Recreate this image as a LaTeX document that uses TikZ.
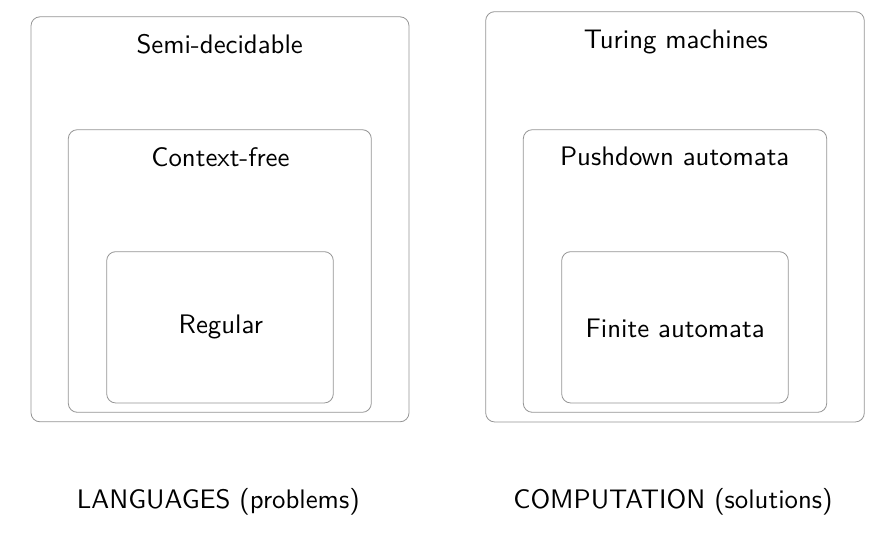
\documentclass[tikz,border=0pt]{standalone}
\usepackage{fontspec}
\newfontfamily\lmsten{lmsans10-regular.otf}
\begin{document}
\begin{tikzpicture}[x=1pt,y=-1pt,
  box/.style={draw=black!42, line width=0.8pt, rounded corners=9pt, rectangle, inner sep=0pt},
  lbl/.style={font=\lmsten\fontsize{26.8}{31}\selectfont, text=black, inner sep=0pt, anchor=base}]
\useasboundingbox (0,0) rectangle (881,536);
% left column
\node[box, minimum width=378pt, minimum height=405pt] (semi) at (220,219.3) {};
\node[box, minimum width=303pt, minimum height=282.6pt] (cf) at (219.8,271) {};
\node[box, minimum width=226.6pt, minimum height=151.3pt] (reg) at (220,327.3) {};
\node[lbl] (tsemi) at (219.7,53.3) {Semi-decidable};
\node[lbl] (tcf) at (220.5,166) {Context-free};
\node[lbl] (treg) at (220.8,333.3) {Regular};
% right column
\node[box, minimum width=378.6pt, minimum height=410.3pt] (tm) at (675,216.8) {};
\node[box, minimum width=303.4pt, minimum height=282.6pt] (pda) at (675,271) {};
\node[box, minimum width=226.6pt, minimum height=151.3pt] (fa) at (675,327.3) {};
\node[lbl] (ttm) at (675.8,48.3) {Turing machines};
\node[lbl] (tpda) at (674.7,165.7) {Pushdown automata};
\node[lbl] (tfa) at (675.2,337.3) {Finite automata};
% captions
\node[lbl] (lang) at (218.3,508.3) {LANGUAGES (problems)};
\node[lbl] (comp) at (673,508) {COMPUTATION (solutions)};
\end{tikzpicture}
\end{document}
